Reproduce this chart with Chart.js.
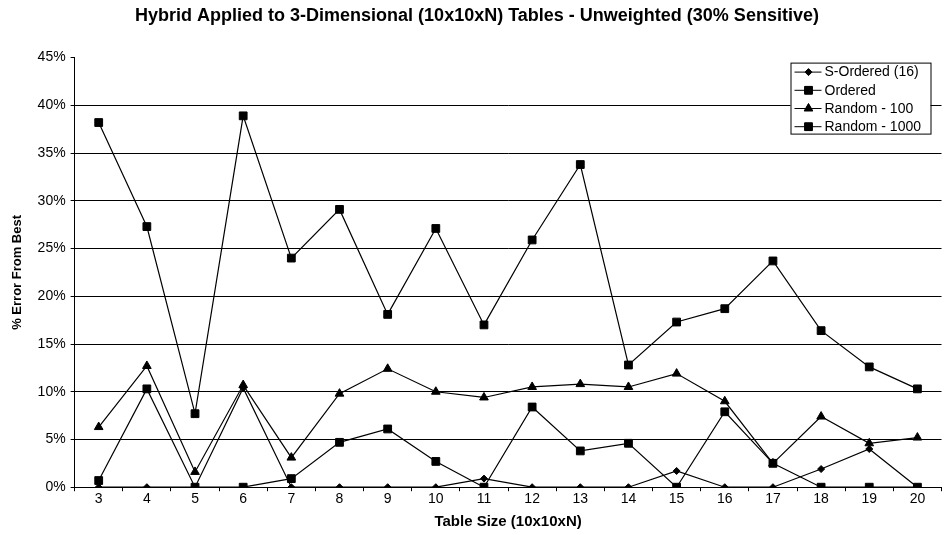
<!DOCTYPE html>
<html lang="en">
<head>
    <meta charset="UTF-8">
    <title>Hybrid Applied to 3-Dimensional Tables</title>
    <script src="https://cdn.jsdelivr.net/npm/chart.js"></script>
    <style>
        body {
            margin: 0;
            background: #fff;
        }
        #wrap {
            width: 948px;
            height: 535px;
        }
    </style>
</head>
<body>
    <div id="wrap"><canvas id="graph" width="948" height="535"></canvas></div>

    <script>
        // table sizes (10x10xN)
        const categories = ['3', '4', '5', '6', '7', '8', '9', '10', '11', '12', '13', '14', '15', '16', '17', '18', '19', '20'];

        // % error from best
        const sOrdered   = [0, 0, 0, 10.4, 0, 0, 0, 0, 0.9, 0, 0, 0, 1.7, 0, 0, 1.9, 4.0, 0];
        const ordered    = [38.2, 27.3, 7.7, 38.9, 24.0, 29.1, 18.1, 27.1, 17.0, 25.9, 33.8, 12.8, 17.3, 18.7, 23.7, 16.4, 12.6, 10.3];
        const random100  = [6.3, 12.7, 1.6, 10.7, 3.1, 9.8, 12.4, 10.0, 9.4, 10.5, 10.8, 10.5, 11.9, 9.0, 2.5, 7.4, 4.6, 5.2];
        const random1000 = [0.7, 10.3, 0, 0, 0.9, 4.7, 6.1, 2.7, 0, 8.4, 3.8, 4.6, 0, 7.9, 2.5, 0, 0, 0];

        const yTicks = [0, 5, 10, 15, 20, 25, 30, 35, 40, 45];

        const FONT = "'Liberation Sans', Arial, sans-serif";

        function series(label, data, style, radius) {
            return {
                label: label,
                data: data,
                borderColor: '#000',
                backgroundColor: '#000',
                borderWidth: 1.2,
                pointStyle: style,
                pointRadius: radius,
                pointHoverRadius: radius,
                pointBorderWidth: 1,
                tension: 0
            };
        }

        // legend box drawn inside the plot, Excel style
        const boxLegend = {
            id: 'boxLegend',
            afterDraw(chart) {
                const ctx = chart.ctx;
                const area = chart.chartArea;
                const w = 140, h = 71;
                const x0 = area.right - 11 - w;
                const y0 = area.top + 5;
                ctx.save();
                ctx.fillStyle = '#fff';
                ctx.fillRect(x0, y0, w, h);
                ctx.strokeStyle = '#000';
                ctx.lineWidth = 1;
                ctx.strokeRect(x0 + 0.5, y0 + 0.5, w, h);
                ctx.font = '14px ' + FONT;
                ctx.textBaseline = 'middle';
                chart.data.datasets.forEach((ds, i) => {
                    const cy = y0 + 9 + i * 18.2;
                    ctx.beginPath();
                    ctx.moveTo(x0 + 4, cy + 0.5);
                    ctx.lineTo(x0 + 31, cy + 0.5);
                    ctx.strokeStyle = '#000';
                    ctx.stroke();
                    Chart.helpers.drawPoint(ctx, {
                        pointStyle: ds.pointStyle,
                        radius: ds.pointRadius,
                        rotation: 0,
                        borderWidth: 1
                    }, x0 + 18, cy + 0.5);
                    ctx.fillStyle = '#000';
                    ctx.fill();
                    ctx.fillText(ds.label, x0 + 34, cy + 1);
                });
                ctx.restore();
            }
        };

        window.onload = function() {
            let ctx = document.getElementById('graph').getContext('2d');
            new Chart(ctx, {
                type: 'line',
                data: {
                    labels: categories,
                    datasets: [
                        series('S-Ordered (16)', sOrdered, 'rectRot', 3.5),
                        series('Ordered', ordered, 'rect', 5.5),
                        series('Random - 100', random100, 'triangle', 5),
                        series('Random - 1000', random1000, 'rect', 5.5)
                    ]
                },
                options: {
                    responsive: false,
                    animation: false,
                    layout: {
                        padding: { left: 10, right: 4, top: 0, bottom: 4 }
                    },
                    plugins: {
                        legend: { display: false },
                        tooltip: { enabled: false },
                        title: {
                            display: true,
                            text: 'Hybrid Applied to 3-Dimensional (10x10xN) Tables - Unweighted (30% Sensitive)',
                            color: '#000',
                            font: { family: FONT, size: 18, weight: 'bold' },
                            padding: { top: 5, bottom: 31 }
                        }
                    },
                    scales: {
                        x: {
                            offset: true,
                            grid: {
                                offset: true,
                                drawOnChartArea: false,
                                color: '#000',
                                tickLength: 4
                            },
                            border: { color: '#000', width: 1 },
                            ticks: {
                                color: '#000',
                                font: { family: FONT, size: 14 },
                                maxRotation: 0,
                                padding: 0
                            },
                            title: {
                                display: true,
                                text: 'Table Size (10x10xN)',
                                color: '#000',
                                font: { family: FONT, size: 15, weight: 'bold' },
                                padding: { top: 5, bottom: 0 }
                            }
                        },
                        y: {
                            min: 0,
                            max: 45,
                            afterBuildTicks(axis) {
                                axis.ticks = yTicks.map(v => ({ value: v }));
                            },
                            grid: {
                                color: c => (c.tick && c.tick.value === 45) ? 'rgba(0,0,0,0)' : '#000',
                                tickColor: '#000',
                                tickLength: 4
                            },
                            border: { color: '#000', width: 1 },
                            ticks: {
                                color: '#000',
                                font: { family: FONT, size: 14 },
                                padding: 5,
                                callback: v => v + '%'
                            },
                            title: {
                                display: true,
                                text: '% Error From Best',
                                color: '#000',
                                font: { family: FONT, size: 13, weight: 'bold' },
                                padding: { top: 0, bottom: 7 }
                            }
                        }
                    }
                },
                plugins: [boxLegend]
            });
        };
    </script>
</body>
</html>
